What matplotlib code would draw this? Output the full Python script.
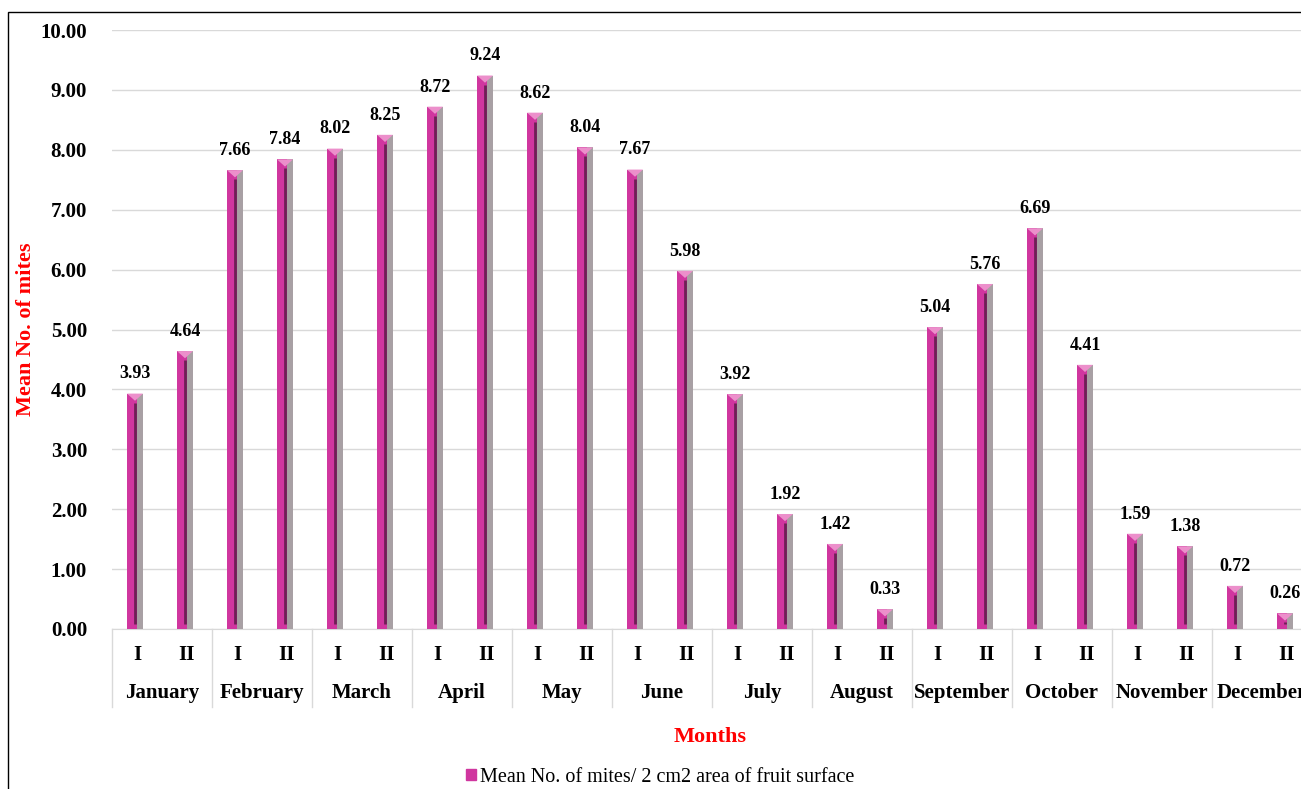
import matplotlib.pyplot as plt
from matplotlib.patches import Rectangle, Polygon
from matplotlib.transforms import blended_transform_factory

# --- data ---
months = ['January', 'February', 'March', 'April', 'May', 'June', 'July',
          'August', 'September', 'October', 'November', 'December']
fortnights = ['I', 'II']
values = [3.93, 4.64, 7.66, 7.84, 8.02, 8.25, 8.72, 9.24, 8.62, 8.04, 7.67, 5.98,
          3.92, 1.92, 1.42, 0.33, 5.04, 5.76, 6.69, 4.41, 1.59, 1.38, 0.72, 0.26]
yticks = [0, 1, 2, 3, 4, 5, 6, 7, 8, 9, 10]
legend_label = 'Mean No. of mites/ 2 cm2 area of fruit surface'

plt.rcParams['font.family'] = ['Liberation Serif', 'DejaVu Serif']

W, H = 1301, 789
fig = plt.figure(figsize=(W / 100, H / 100), dpi=100)
# axes deliberately runs past the right edge, as in the original
ax = fig.add_axes([112 / W, 1 - 629 / H, 1200 / W, 599 / H])

magenta = '#D0369F'
side = '#A8A0A4'
core = '#6E1F55'

x = [i + 0.46 for i in range(len(values))]
ax.bar([p - 0.06 for p in x], values, width=0.2, color=magenta, zorder=3)
ax.bar([p + 0.1 for p in x], values, width=0.12, color=side, zorder=3)
ax.vlines(x, 0.08, [max(v - 0.15, 0.08) for v in values], color=core, lw=2, zorder=4)
# small pyramid-like cap on top of each bar
for p, v in zip(x, values):
    ax.add_patch(Polygon([(p - 0.16, v), (p + 0.16, v), (p, v - 0.12)],
                         closed=True, color='#EC8FCB', lw=0, zorder=5))

for p, v in zip(x, values):
    ax.annotate(f'{v:.2f}', (p, v), xytext=(0, 8), textcoords='offset points',
                ha='center', va='bottom', fontsize=13, fontweight='bold')

ax.set_xlim(0, 24)
ax.set_ylim(0, 10)
ax.set_yticks(yticks)
ax.set_yticklabels([f'{t:.2f}' for t in yticks], fontsize=15, fontweight='bold')
ax.tick_params(axis='y', length=0, pad=18)
ax.set_xticks([])
ax.grid(axis='y', color='#D9D9D9', lw=1, zorder=0)
ax.set_axisbelow(True)
for s in ['top', 'right', 'left']:
    ax.spines[s].set_visible(False)
ax.spines['bottom'].set_color('#D9D9D9')

# two-level category axis
trans = blended_transform_factory(ax.transData, ax.transAxes)
for i, p in enumerate(x):
    ax.text(i + 0.5, -0.043, fortnights[i % 2], transform=trans, ha='center',
            va='center', fontsize=15, fontweight='bold', clip_on=False)
for m, name in enumerate(months):
    ax.text(2 * m + 1, -0.107, name, transform=trans, ha='center', va='center',
            fontsize=15, fontweight='bold', clip_on=False)
for b in range(0, 25, 2):
    ax.plot([b, b], [0, -0.13], transform=trans, color='#D9D9D9', lw=1, clip_on=False)

ax.set_ylabel('Mean No. of mites', color='red', fontsize=16, fontweight='bold')
ax.yaxis.set_label_coords(-76 / 1200, 0.5)
fig.text(710 / W, 1 - 737 / H, 'Months', color='red', fontsize=16,
         fontweight='bold', ha='center', va='center')

handle = Rectangle((0, 0), 1, 1, color=magenta)
fig.legend([handle], [legend_label], loc='center', bbox_to_anchor=(660 / W, 1 - 777 / H),
           frameon=False, fontsize=14.5, handlelength=0.5, handleheight=0.5,
           handletextpad=0.2)

# outer chart border (cut off on right and bottom)
fig.add_artist(Rectangle((8 / W, -0.1), 1.2, 1 - 12 / H + 0.1,
                         transform=fig.transFigure, fill=False, ec='black', lw=1))

fig.savefig('out.png', dpi=100)
